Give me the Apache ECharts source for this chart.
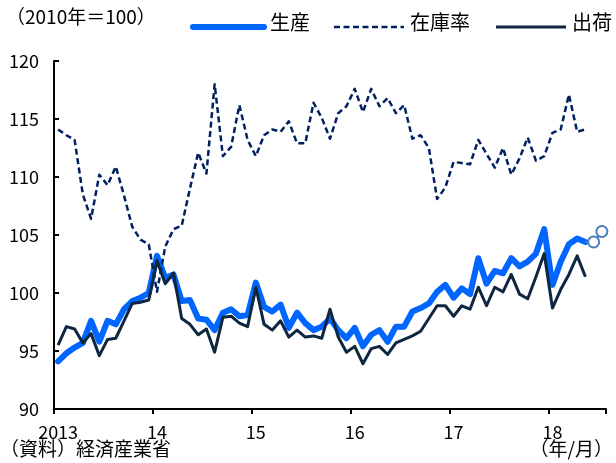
<!DOCTYPE html>
<html>
<head>
<meta charset="utf-8">
<script src="https://cdn.jsdelivr.net/npm/echarts@6/dist/echarts.min.js"></script>
<style>
html,body{margin:0;padding:0;background:#fff;}
#c{width:616px;height:463px;}
</style>
</head>
<body>
<div id="c"></div>
<script>
// Year labels (first month of each year)
var yearLabels = ['2013', '14', '15', '16', '17', '18'];
var monthsInLastYear = 7; // Jan–Jul 2018

// 生産 (production), Jan 2013 – May 2018
var production = [94.1, 94.8, 95.3, 95.7, 97.6, 95.8, 97.6, 97.3, 98.6, 99.3, 99.6, 100.0,
  103.2, 101.3, 101.6, 99.3, 99.4, 97.8, 97.7, 96.8, 98.3, 98.6, 98.0, 98.1,
  100.9, 98.8, 98.4, 99.0, 97.0, 98.3, 97.4, 96.8, 97.1, 97.8, 96.8, 96.1,
  97.0, 95.4, 96.4, 96.8, 95.8, 97.1, 97.1, 98.4, 98.7, 99.1, 100.1, 100.7,
  99.6, 100.4, 99.9, 103.0, 100.8, 101.9, 101.7, 103.0, 102.3, 102.7, 103.4, 105.5,
  100.7, 102.7, 104.2, 104.7, 104.4];
// 生産 forecast (Jun, Jul 2018)
var productionForecast = [104.4, 105.3];
// 在庫率 (inventory ratio)
var inventory = [114.1, 113.6, 113.2, 108.5, 106.4, 110.2, 109.3, 110.9, 108.4, 105.7, 104.6, 104.2,
  100.1, 104.0, 105.5, 105.8, 109.0, 112.1, 110.3, 118.0, 111.8, 112.6, 116.2, 113.2,
  111.8, 113.6, 114.1, 113.9, 114.8, 112.9, 112.9, 116.4, 115.1, 113.3, 115.5, 116.1,
  117.6, 115.6, 117.6, 116.1, 116.8, 115.5, 116.2, 113.3, 113.6, 112.5, 108.1, 109.1,
  111.3, 111.2, 111.1, 113.2, 112.0, 110.8, 112.5, 110.2, 111.6, 113.4, 111.4, 111.8,
  113.8, 114.1, 117.1, 113.9, 114.1];
// 出荷 (shipments)
var shipments = [95.5, 97.1, 96.9, 95.7, 96.5, 94.6, 96.0, 96.1, 97.6, 99.1, 99.2, 99.4,
  102.8, 100.8, 101.7, 97.8, 97.3, 96.4, 96.9, 94.9, 97.9, 98.0, 97.4, 97.1,
  100.5, 97.3, 96.8, 97.6, 96.2, 96.8, 96.2, 96.3, 96.1, 98.6, 96.2, 94.9,
  95.4, 93.9, 95.2, 95.4, 94.7, 95.7, 96.0, 96.3, 96.7, 97.8, 98.9, 98.9,
  98.0, 98.9, 98.6, 100.5, 98.9, 100.5, 100.1, 101.6, 99.9, 99.5, 101.4, 103.4,
  98.7, 100.3, 101.6, 103.2, 101.4];

var categories = [];
var catLabel = {};
yearLabels.forEach(function (y, i) {
  var n = (i === yearLabels.length - 1) ? monthsInLastYear : 12;
  for (var m = 1; m <= n; m++) {
    var key = (2013 + i) + '/' + m;
    categories.push(key);
    catLabel[key] = (m === 1) ? y : '';
  }
});

var forecastData = categories.map(function () { return null; });
var lastIdx = production.length - 1;
forecastData[lastIdx] = { value: production[lastIdx], symbol: 'none' };
productionForecast.forEach(function (v, i) { forecastData[lastIdx + 1 + i] = v; });

var FONT = '"Noto Sans CJK JP", "Noto Sans", sans-serif';
var chart = echarts.init(document.getElementById('c'), null, { renderer: 'canvas' });
chart.setOption({
  animation: false,
  backgroundColor: '#fff',
  grid: { left: 54, right: 10, top: 61, bottom: 54, containLabel: false },
  xAxis: {
    type: 'category',
    data: categories,
    boundaryGap: true,
    axisLine: { lineStyle: { color: '#000', width: 2 } },
    axisTick: { show: true, interval: function (i) { return i % 12 === 0; }, length: 5, inside: false, lineStyle: { color: '#000', width: 2 } },
    axisLabel: {
      interval: 11, margin: 14, color: '#000', fontSize: 18, fontFamily: FONT,
      formatter: function (v) { return catLabel[v]; }
    },
    splitLine: { show: false }
  },
  yAxis: {
    type: 'value',
    min: 90, max: 120, interval: 5,
    axisLine: { show: true, lineStyle: { color: '#000', width: 2 } },
    axisTick: { show: true, inside: true, length: 5, lineStyle: { color: '#000', width: 2 } },
    axisLabel: { margin: 15, color: '#000', fontSize: 18, fontFamily: FONT },
    splitLine: { show: false }
  },
  series: [
    {
      name: '生産', type: 'line', data: production, symbol: 'none', z: 2,
      lineStyle: { color: '#0066FF', width: 6, cap: 'round', join: 'round' }
    },
    {
      name: '生産（予測）', type: 'line', data: forecastData, symbol: 'circle', symbolSize: 11, z: 3,
      showSymbol: true, showAllSymbol: true, connectNulls: false,
      lineStyle: { color: '#4A7EBB', width: 2 },
      itemStyle: { color: '#fff', borderColor: '#4A7EBB', borderWidth: 2 }
    },
    {
      name: '在庫率', type: 'line', data: inventory, symbol: 'none', z: 4,
      lineStyle: { color: '#002060', width: 2.5, type: [6, 3.5], join: 'round' }
    },
    {
      name: '出荷', type: 'line', data: shipments, symbol: 'none', z: 5,
      lineStyle: { color: '#0F2641', width: 3, join: 'round' }
    }
  ],
  graphic: [
    { type: 'text', left: 6, top: 7, style: { text: '（2010年＝100）', font: '19px ' + FONT, fill: '#000' } },
    { type: 'line', shape: { x1: 193, y1: 27, x2: 264, y2: 27 }, style: { stroke: '#0066FF', lineWidth: 6, lineCap: 'round' } },
    { type: 'text', left: 270, top: 12, style: { text: '生産', font: '20px ' + FONT, fill: '#000' } },
    { type: 'line', shape: { x1: 334, y1: 27, x2: 404, y2: 27 }, style: { stroke: '#002060', lineWidth: 2.5, lineDash: [6, 3.5] } },
    { type: 'text', left: 410, top: 12, style: { text: '在庫率', font: '20px ' + FONT, fill: '#000' } },
    { type: 'line', shape: { x1: 496, y1: 27, x2: 566, y2: 27 }, style: { stroke: '#0F2641', lineWidth: 3 } },
    { type: 'text', left: 572, top: 12, style: { text: '出荷', font: '20px ' + FONT, fill: '#000' } },
    { type: 'text', left: 0, top: 439, style: { text: '（資料）経済産業省', font: '19px ' + FONT, fill: '#000' } },
    { type: 'text', right: 3, top: 439, style: { text: '（年/月）', font: '19px ' + FONT, fill: '#000' } }
  ]
});
</script>
</body>
</html>
